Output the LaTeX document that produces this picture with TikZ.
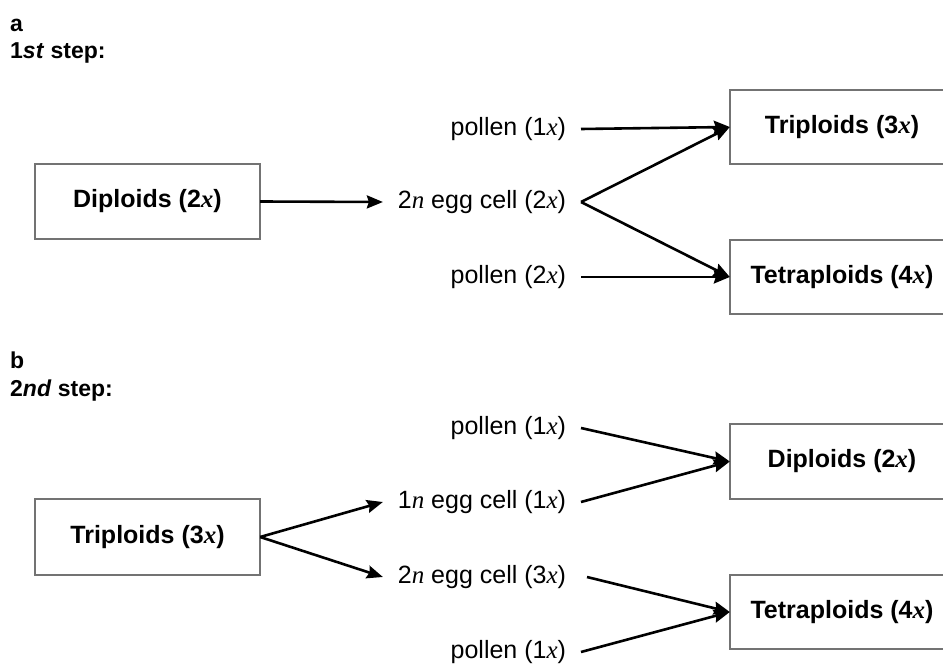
\documentclass[tikz,border=0pt]{standalone}
\usepackage{fontspec}
\setmainfont{Liberation Sans}
\newfontfamily\serifx{Liberation Serif}
\usetikzlibrary{arrows.meta}
\newcommand{\vx}{{\serifx\itshape x}}
\newcommand{\vn}{{\serifx\itshape n}}
\tikzset{
  boxnode/.style={inner sep=0pt, minimum width=224pt, minimum height=74pt, font=\fontsize{25}{28}\selectfont\bfseries},
  boxline/.style={draw=black!55, line width=1.6pt},
  lbl/.style={inner sep=0pt, outer xsep=15pt, anchor=east, font=\fontsize{25}{28}\selectfont},
  arr/.style={line width=2.6pt, -{Stealth[length=16pt,width=13pt,inset=2pt]}},
  head/.style={inner sep=0pt, anchor=base west, font=\fontsize{23}{26}\selectfont\bfseries}
}
\begin{document}
\begin{tikzpicture}[x=1pt,y=-1pt]
\clip (0,0) rectangle (943,668);
\fill[white] (0,0) rectangle (943,668);
% headings
\node[head] (ha) at (10,32) {a};
\node[head] (hs1) at (10,59) {1\textit{st} step:};
\node[head] (hb) at (10,369) {b};
\node[head] (hs2) at (10,396) {2\textit{nd} step:};
% ---- part a ----
\node[boxnode, minimum width=225pt, minimum height=75pt] (dipA) at (147.5,201.5) {Diploids (2\vx)};
\draw[boxline] (dipA.south west) rectangle (dipA.north east);
\node[lbl] (eggA) at (581,202) {2\vn{} egg cell (2\vx)};
\node[lbl] (polA1) at (581,129) {pollen (1\vx)};
\node[lbl] (polA2) at (581,277) {pollen (2\vx)};
\node[boxnode] (triA) at (842,127) {Triploids (3\vx)};
\draw[boxline] (triA.south west) rectangle ([xshift=40pt]triA.north east);
\node[boxnode] (tetA) at (842,277) {Tetraploids (4\vx)};
\draw[boxline] (tetA.south west) rectangle ([xshift=40pt]tetA.north east);
\draw[arr] (dipA.east) -- (eggA.west);
\draw[arr] (polA1.east) -- (triA.west);
\draw[arr] (eggA.east) -- (triA.west);
\draw[arr] (eggA.east) -- (tetA.west);
\draw[arr] (polA2.east) -- (tetA.west);
% ---- part b ----
\node[boxnode, minimum width=225pt, minimum height=76pt] (triB) at (147.5,537) {Triploids (3\vx)};
\draw[boxline] (triB.south west) rectangle (triB.north east);
\node[lbl] (polB1) at (581,428) {pollen (1\vx)};
\node[lbl] (eggB1) at (581,502) {1\vn{} egg cell (1\vx)};
\node[lbl] (eggB2) at (581,577) {2\vn{} egg cell (3\vx)};
\node[lbl] (polB2) at (581,652) {pollen (1\vx)};
\node[boxnode, minimum height=75pt] (dipB) at (842,461.5) {Diploids (2\vx)};
\draw[boxline] (dipB.south west) rectangle ([xshift=40pt]dipB.north east);
\node[boxnode] (tetB) at (842,612) {Tetraploids (4\vx)};
\draw[boxline] (tetB.south west) rectangle ([xshift=40pt]tetB.north east);
\draw[arr] (triB.east) -- (eggB1.west);
\draw[arr] (triB.east) -- (eggB2.west);
\draw[arr] (polB1.east) -- (dipB.west);
\draw[arr] (eggB1.east) -- (dipB.west);
\draw[arr] ([xshift=6pt]eggB2.east) -- (tetB.west);
\draw[arr] (polB2.east) -- (tetB.west);
\end{tikzpicture}
\end{document}
